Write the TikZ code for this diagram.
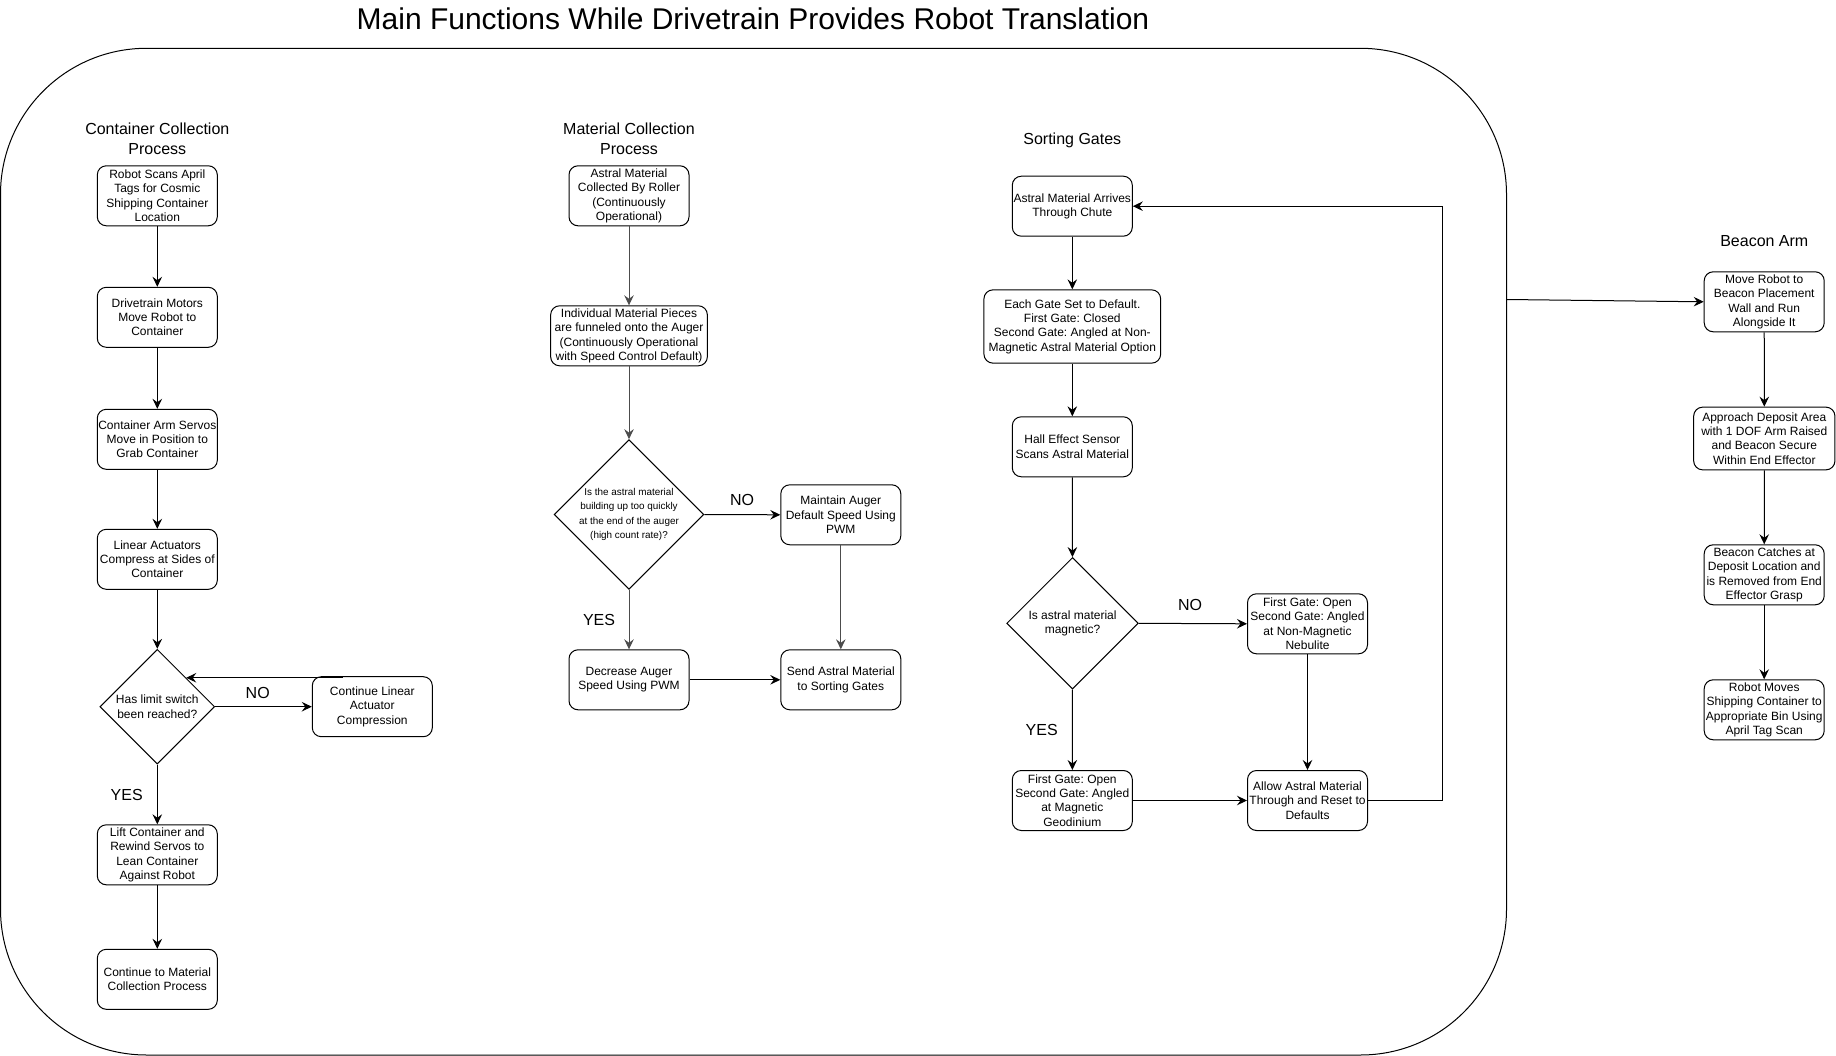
\documentclass[tikz,border=0pt]{standalone}
\usepackage{fontspec}
\setmainfont{Liberation Sans}
\usetikzlibrary{%
    shapes.geometric,%
    arrows.meta,%
    calc%
}
\frenchspacing

\begin{document}
\begin{tikzpicture}[
    x=1pt,y=-1pt,
    proc/.style={draw,rounded corners=9pt,line width=1pt,align=center,
        minimum width=120pt,minimum height=60pt,inner sep=1pt,
        font=\fontsize{12}{14.4}\selectfont},
    decision/.style={draw,diamond,aspect=1,line width=1pt,align=center,
        inner sep=0pt,font=\fontsize{12}{14.4}\selectfont},
    heading/.style={align=center,font=\fontsize{16}{20}\selectfont},
    answer/.style={font=\fontsize{16}{19}\selectfont},
    flow/.style={line width=1pt,-{Stealth[length=10pt,width=9.5pt,inset=3.5pt]}},
    faint/.style={draw=black!70},
    ]

    \useasboundingbox (0,0) rectangle (1836,1056);

    % Title and frame
    \node[font=\fontsize{30}{34}\selectfont] (title) at (753,18.7)
        {Main Functions While Drivetrain Provides Robot Translation};
    \draw[line width=1pt,rounded corners=146pt] (0.5,48.3) rectangle (1506.5,1055);
    \coordinate (frameR) at (1506.5,299.5);

    % Container collection
    \node[heading] (ctitle) at (157.3,138.5) {Container Collection\\Process};
    \node[proc] (c1) at (157.3,195.8) {Robot Scans April\\Tags for Cosmic\\Shipping Container\\Location};
    \node[proc] (c2) at (157.3,317.3) {Drivetrain Motors\\Move Robot to\\Container};
    \node[proc] (c3) at (157.3,439.3) {Container Arm Servos\\Move in Position to\\Grab Container};
    \node[proc] (c4) at (157.3,559.3) {Linear Actuators\\Compress at Sides of\\Container};
    \node[decision,minimum width=114.7pt,minimum height=114.7pt] (cd) at (157.3,706.7)
        {Has limit switch\\been reached?};
    \node[proc] (cno) at (372.3,706.7) {Continue Linear\\Actuator\\Compression};
    \node[proc] (c5) at (157.3,854.8) {Lift Container and\\Rewind Servos to\\Lean Container\\Against Robot};
    \node[proc] (c6) at (157.3,979.3) {Continue to Material\\Collection Process};
    \node[answer] (cnotxt) at (257.7,692.8) {NO};
    \node[answer] (cyestxt) at (126.7,794.8) {YES};
    \coordinate (cback) at ($(cno.north west)+(31,0)$);

    \draw[flow] (c1) -- (c2);
    \draw[flow] (c2) -- (c3);
    \draw[flow] (c3) -- (c4);
    \draw[flow] (c4) -- (cd);
    \draw[flow] (cd.east) -- (cno.west);
    \draw[flow] (cd.north east -| cback) -- (cd.north east);
    \draw[flow] (cd) -- (c5);
    \draw[flow] (c5) -- (c6);

    % Material collection
    \node[heading] (mtitle) at (629,138.8) {Material Collection\\Process};
    \node[proc] (m1) at (629,195.8) {Astral Material\\Collected By Roller\\(Continuously\\Operational)};
    \node[proc,minimum width=156.7pt] (m2) at (629,335.8)
        {Individual Material Pieces\\are funneled onto the Auger\\(Continuously Operational\\with Speed Control Default)};
    \node[decision,minimum width=149.7pt,minimum height=149.7pt,inner sep=-2pt,
        font=\fontsize{9.9}{14.5}\selectfont] (md) at (629,514.5)
        {Is the astral material\\building up too quickly\\at the end of the auger\\(high count rate)?};
    \node[proc] (mno) at (840.8,514.8) {Maintain Auger\\Default Speed Using\\PWM};
    \node[proc] (m4) at (629,679.8) {Decrease Auger\\Speed Using PWM};
    \node[proc] (m5) at (840.8,679.8) {Send Astral Material\\to Sorting Gates};
    \node[answer] (mnotxt) at (742,499.5) {NO};
    \node[answer] (myestxt) at (599,619.8) {YES};

    \draw[flow,faint] (m1) -- (m2);
    \draw[flow,faint] (m2) -- (md);
    \draw[flow] (md.east) -- (mno.west);
    \draw[flow,faint] (md) -- (m4);
    \draw[flow,faint] (mno) -- (m5);
    \draw[flow] (m4) -- (m5);

    % Sorting gates
    \node[heading] (stitle) at (1072.3,140.5) {Sorting Gates};
    \node[proc] (s1) at (1072.3,206.2) {Astral Material Arrives\\Through Chute};
    \node[proc,minimum width=176.7pt,minimum height=73.3pt] (s2) at (1072.3,326.5)
        {Each Gate Set to Default.\\First Gate: Closed\\Second Gate: Angled at Non-\\Magnetic Astral Material Option};
    \node[proc] (s3) at (1072.3,446.8) {Hall Effect Sensor\\Scans Astral Material};
    \node[decision,minimum width=131.6pt,minimum height=131.6pt] (sd) at (1072.5,623.3)
        {Is astral material\\magnetic?};
    \node[proc] (sno) at (1307.5,623.8) {First Gate: Open\\Second Gate: Angled\\at Non-Magnetic\\Nebulite};
    \node[proc] (syes) at (1072.3,800.5) {First Gate: Open\\Second Gate: Angled\\at Magnetic\\Geodinium};
    \node[proc] (sall) at (1307.5,800.5) {Allow Astral Material\\Through and Reset to\\Defaults};
    \node[answer] (snotxt) at (1190,604.5) {NO};
    \node[answer] (syestxt) at (1041.7,729.8) {YES};
    \coordinate (sback) at (1442.5,205.7);

    \draw[flow] (s1) -- (s2);
    \draw[flow] (s2) -- (s3);
    \draw[flow] (s3) -- (sd);
    \draw[flow] (sd.east) -- (sno.west);
    \draw[flow] (sd) -- (syes);
    \draw[flow] (sno) -- (sall);
    \draw[flow] (syes) -- (sall);
    \draw[flow] (sall.east) -- (sall.east -| sback) |- (s1.east);

    % Beacon arm
    \node[heading] (btitle) at (1764.3,241.5) {Beacon Arm};
    \node[proc] (b1) at (1764.2,301.8) {Move Robot to\\Beacon Placement\\Wall and Run\\Alongside It};
    \node[proc,minimum width=141.3pt,minimum height=62.7pt] (b2) at (1764.3,438.5)
        {Approach Deposit Area\\with 1 DOF Arm Raised\\and Beacon Secure\\Within End Effector};
    \node[proc] (b3) at (1764.2,574.8) {Beacon Catches at\\Deposit Location and\\is Removed from End\\Effector Grasp};
    \node[proc] (b4) at (1764.2,709.8) {Robot Moves\\Shipping Container to\\Appropriate Bin Using\\April Tag Scan};

    \draw[flow] (frameR) -- (b1.west);
    \draw[flow] (b1) -- (b2);
    \draw[flow] (b2) -- (b3);
    \draw[flow] (b3) -- (b4);
\end{tikzpicture}
\end{document}
